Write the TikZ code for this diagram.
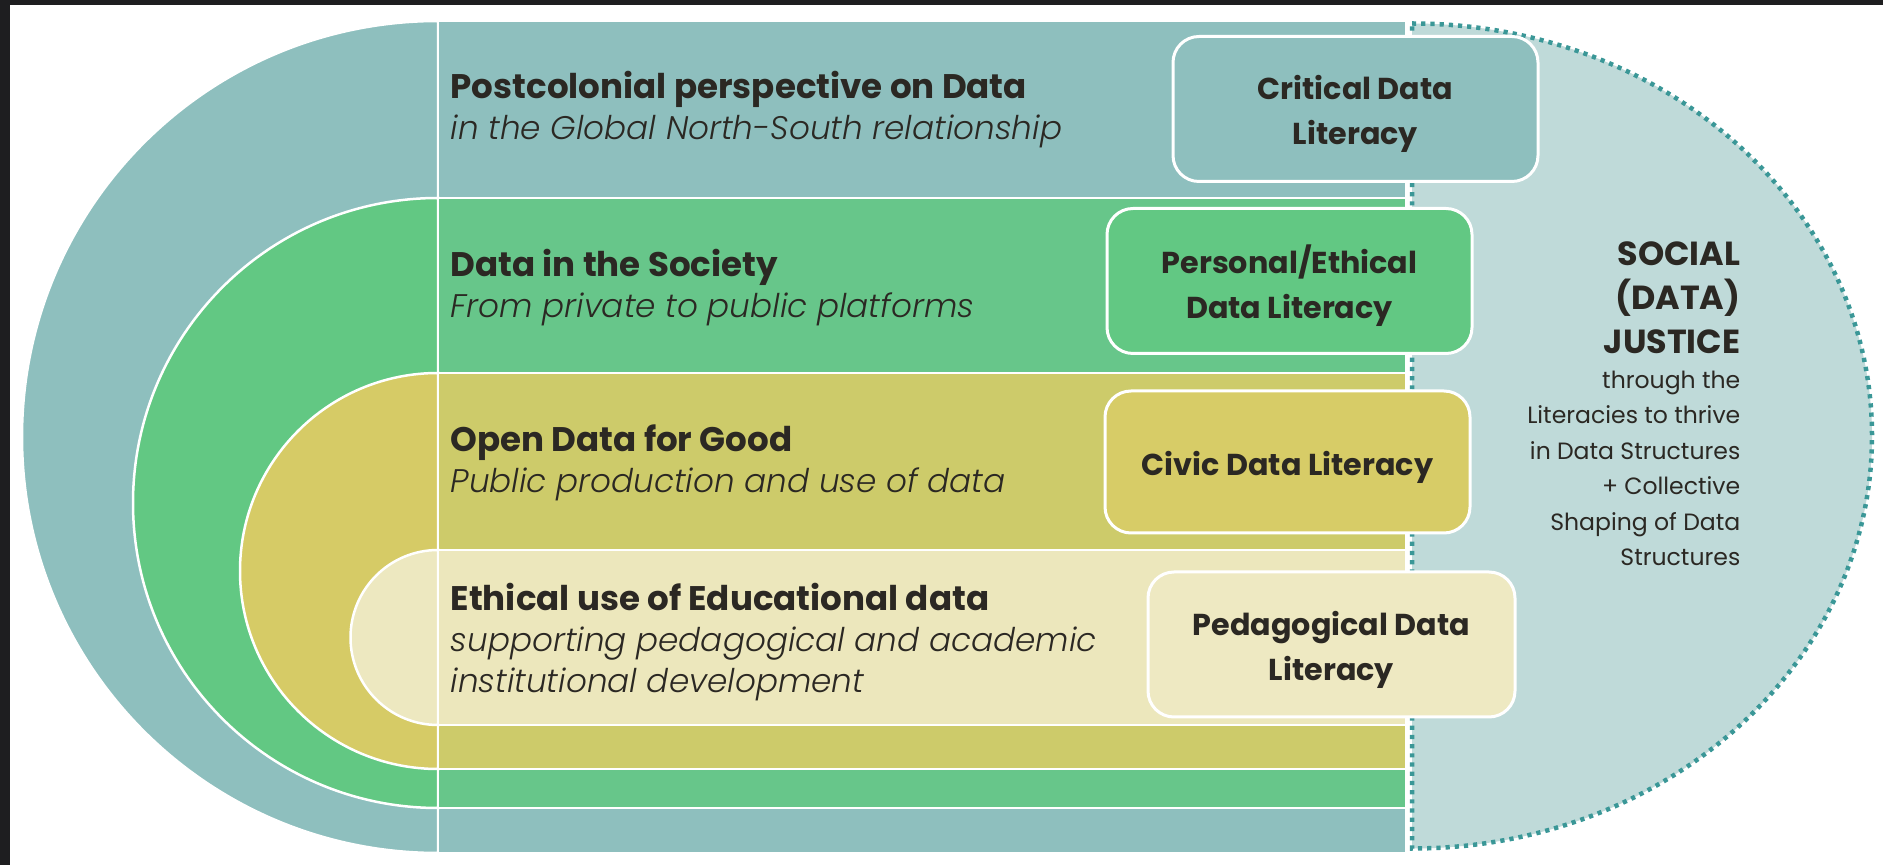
\documentclass[tikz,border=0pt]{standalone}
\usepackage{fontspec}
\setmainfont{Poppins}
\newfontfamily\thinit{Poppins Light Italic}
\definecolor{ink}{HTML}{2B2823}
\definecolor{tealL}{HTML}{8EBFBE}
\definecolor{tealR}{HTML}{8EBFBE}
\definecolor{greenL}{HTML}{62C883}
\definecolor{greenR}{HTML}{67C68A}
\definecolor{oliveL}{HTML}{D6CB66}
\definecolor{oliveR}{HTML}{CDCB6A}
\definecolor{creamL}{HTML}{EDE8C0}
\definecolor{creamR}{HTML}{ECE7BC}
\definecolor{civicbox}{HTML}{D7CC67}
\definecolor{pedabox}{HTML}{EEE9C2}
\definecolor{justicefill}{HTML}{BFDAD9}
\definecolor{justicedot}{HTML}{3A9797}
\definecolor{frame}{HTML}{1E1E20}
\newcommand{\layersub}{\fontsize{9.3}{11.7}\selectfont\thinit}
\begin{document}
\begin{tikzpicture}[x=0.1mm,y=0.1mm,
    band/.style={draw=white,line width=0.25mm},
    litbox/.style={draw=white,line width=0.3mm,rounded corners=2.6mm,
        minimum width=36.5mm,minimum height=14.5mm},
    littext/.style={align=center,inner sep=0pt,text=ink,
        font=\fontsize{8.6}{12.8}\selectfont\bfseries},
    layer/.style={anchor=west,align=left,inner sep=0pt,text=ink,
        font=\fontsize{9.7}{11.7}\selectfont}]

    \useasboundingbox (0,0) rectangle (1883,865);
    \fill[white] (0,0) rectangle (1883,865);
    \fill[frame] (0,860) rectangle (1883,865);
    \fill[frame] (0,0) rectangle (10,865);

    % social (data) justice half disc
    \draw[fill=justicefill,draw=justicedot,line width=0.45mm,
          dash pattern=on 0.42mm off 0.5mm]
        (1412,841.5) arc[start angle=90,end angle=-90,x radius=460,y radius=412.5]
        -- cycle;

    % nested layers
    \foreach \t/\b/\cl/\cr in {844/12/tealL/tealR,667/57/greenL/greenR,
                               492/96/oliveL/oliveR,315/140/creamL/creamR}{
        \pgfmathsetmacro\rad{(\t-\b)/2}
        \filldraw[band,fill=\cl] (438,\t) arc[start angle=90,end angle=270,radius=\rad] -- cycle;
        \filldraw[band,fill=\cr] (438,\t) rectangle (1406,\b);
    }

    \node[layer] (post) at (450,755.5)
        {\textbf{Postcolonial perspective on Data}\\{\layersub in the Global North-South relationship}};
    \node[layer] (society) at (450,577)
        {\textbf{Data in the Society}\\{\layersub From private to public platforms}};
    \node[layer] (opendata) at (450,402.5)
        {\textbf{Open Data for Good}\\{\layersub Public production and use of data}};
    \node[layer] (ethical) at (450,223)
        {\textbf{Ethical use of Educational data}\\{\layersub supporting pedagogical and academic}\\{\layersub institutional development}};

    \node[litbox,fill=tealL] (crit) at (1355.5,756) {};
    \node[litbox,fill=greenL] (pers) at (1289.5,584) {};
    \node[litbox,fill=civicbox,minimum height=14.2mm] (civic) at (1287.5,403) {};
    \node[litbox,fill=pedabox,minimum width=36.7mm] (peda) at (1331.5,220.5) {};
    \node[littext] (crittxt) at ([yshift=-0.45mm]crit.center) {Critical Data\\Literacy};
    \node[littext] (perstxt) at ([yshift=-0.45mm]pers.center) {Personal/Ethical\\Data Literacy};
    \node[littext] (civictxt) at ([yshift=-0.55mm]civic.center) {Civic Data Literacy};
    \node[littext] (pedatxt) at ([yshift=-0.5mm]peda.center) {Pedagogical Data\\Literacy};

    \node[anchor=east,align=right,inner sep=0pt,text=ink,
          font=\fontsize{9.5}{12.5}\selectfont\bfseries] (social) at (1741,567.5)
        {SOCIAL\\(DATA)\\JUSTICE};
    \node[anchor=east,align=right,inner sep=0pt,text=ink,
          font=\fontsize{6.7}{10.1}\selectfont] (socialsub) at (1741,396.5)
        {through the\\Literacies to thrive\\in Data Structures\\+ Collective\\Shaping of Data\\Structures};
\end{tikzpicture}
\end{document}
